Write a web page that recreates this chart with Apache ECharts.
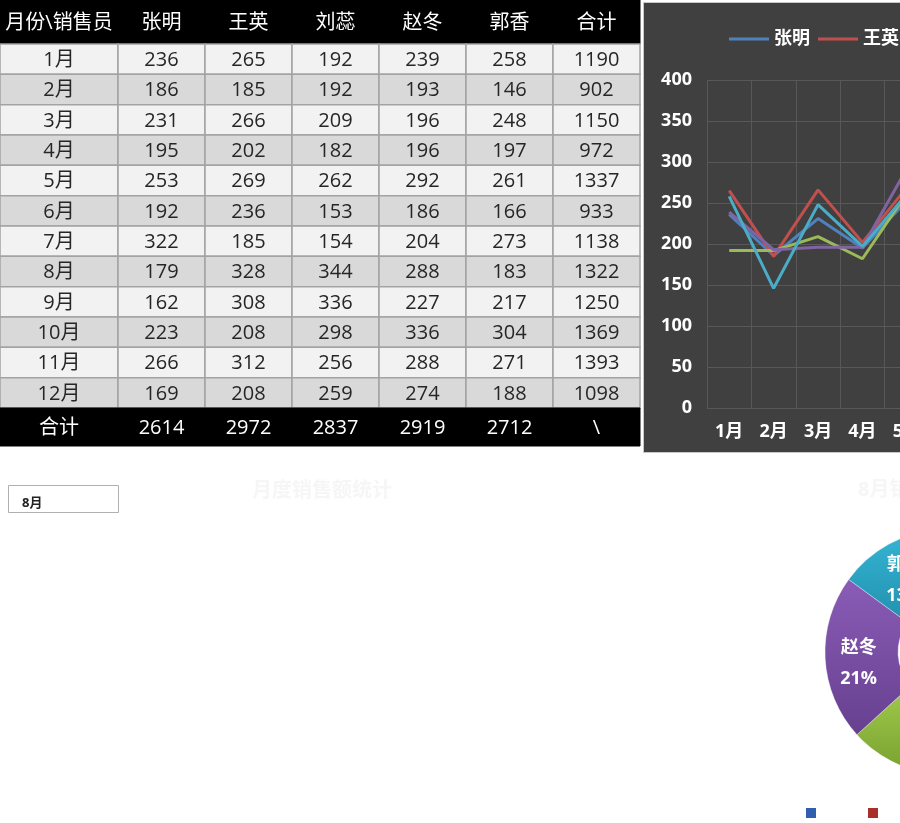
<!DOCTYPE html>
<html><head><meta charset="utf-8">
<script src="https://cdn.jsdelivr.net/npm/echarts@6/dist/echarts.min.js"></script>
<style>html,body{margin:0;padding:0;background:#fff;overflow:hidden;width:900px;height:823px}#c{width:1300px;height:823px}</style>
</head><body><div id="c"></div>
<script>
// ---- data ----
const months = ['1月','2月','3月','4月','5月','6月','7月','8月','9月','10月','11月','12月'];
const people = ['张明','王英','刘蕊','赵冬','郭香'];
const headerLabels = ['月份\\销售员','张明','王英','刘蕊','赵冬','郭香','合计'];
const zhangMing = [236,186,231,195,253,192,322,179,162,223,266,169];
const wangYing  = [265,185,266,202,269,236,185,328,308,208,312,208];
const liuRui    = [192,192,209,182,262,153,154,344,336,298,256,259];
const zhaoDong  = [239,193,196,196,292,186,204,288,227,336,288,274];
const guoXiang  = [258,146,248,197,261,166,273,183,217,304,271,188];
const monthTotals  = [1190,902,1150,972,1337,933,1138,1322,1250,1369,1393,1098];
const personTotals = [2614,2972,2837,2919,2712];
const totalLabel = '合计';
const noTotal = '\\';
const selectedMonth = '8月';
const yMin = 0, yMax = 400, yStep = 50;
const leftTitle = '月度销售额统计';
const pieTitle = '8月销售额占比';

// ---- styles ----
const lineColors = ['#4f81bd','#c0504d','#9bbb59','#8064a2','#4bacc6'];
const pieTop = ['#4a80d2','#d24c42','#a0cb4c','#8a5cb6','#36b6d6'];
const pieBot = ['#2f5fae','#a8302a','#77a02e','#66408f','#2290ad'];
const FONT = "'Open Sans','Noto Sans CJK SC',sans-serif";
const personSeries = [zhangMing, wangYing, liuRui, zhaoDong, guoXiang];

const chart = echarts.init(document.getElementById('c'));

function cellSeries(axisIdx, cells) {
  return {
    type:'custom', xAxisIndex:axisIdx, yAxisIndex:axisIdx, silent:true, clip:false, z:5,
    data: cells.map(c => [c.col, c.row]),
    renderItem(params, api) {
      const cell = cells[params.dataIndex];
      const p = api.coord([api.value(0), api.value(1)]);
      const s = api.size([1, 1]);
      return {type:'group', children:[
        {type:'rect', shape:{x:p[0]-s[0]/2, y:p[1]-s[1]/2, width:s[0], height:s[1]},
         style:{fill:cell.fill, stroke:cell.stroke, lineWidth:cell.lw}},
        {type:'text', style:{x:p[0], y:p[1]+1, text:String(cell.text), fill:cell.color,
          fontSize:20, fontFamily:FONT, align:'center', verticalAlign:'middle'}}
      ]};
    }
  };
}

const bodyCols = ['张明','王英','刘蕊','赵冬','郭香','合计'];
const bodyColData = [zhangMing, wangYing, liuRui, zhaoDong, guoXiang, monthTotals];
const rowFill = r => r % 2 === 0 ? '#f2f2f2' : '#d9d9d9';
const headStyle = {fill:'#000', stroke:'#000', lw:1, color:'#fff'};
const bodyStyle = r => ({fill:rowFill(r), stroke:'#a3a3a3', lw:1.5, color:'#262626'});

const headL = [{col:0,row:0,text:headerLabels[0],...headStyle}];
const headR = headerLabels.slice(1).map((t,i)=>({col:i,row:0,text:t,...headStyle}));
const bodyL = months.map((m,r)=>({col:0,row:r,text:m,...bodyStyle(r)}));
const bodyR = [];
months.forEach((m,r)=>bodyColData.forEach((arr,c)=>bodyR.push({col:c,row:r,text:arr[r],...bodyStyle(r)})));
const footL = [{col:0,row:0,text:totalLabel,...headStyle}];
const footR = personTotals.concat([noTotal]).map((t,i)=>({col:i,row:0,text:t,...headStyle}));

const tableGrids = [
  {left:0, top:0, width:118, height:44},
  {left:118, top:0, width:522, height:44},
  {left:0, top:44, width:118, height:364},
  {left:118, top:44, width:522, height:364},
  {left:0, top:408, width:118, height:38},
  {left:118, top:408, width:522, height:38}
];
const tableX = [[headerLabels[0]], bodyCols, ['月份'], bodyCols, [totalLabel], bodyCols];
const tableY = [['h'], ['h'], months, months, [totalLabel], [totalLabel]];

const grids = tableGrids.concat([{left:707, top:80, width:533, height:328}]);
const xAxes = tableX.map((d,i)=>({type:'category', gridIndex:i, data:d, show:false}));
const yAxes = tableY.map((d,i)=>({type:'category', gridIndex:i, data:d, show:false, inverse:true}));
const labelStyle = {color:'#fff', fontWeight:'bold', fontSize:18, fontFamily:FONT};
xAxes.push({type:'category', gridIndex:6, data:months, boundaryGap:true,
  axisLine:{show:false}, axisTick:{show:false},
  axisLabel:{...labelStyle, margin:15, interval:0},
  splitLine:{show:true, interval:0, lineStyle:{color:'#585858', width:1}}});
yAxes.push({type:'value', gridIndex:6, min:yMin, max:yMax, interval:yStep,
  axisLine:{show:false}, axisTick:{show:false},
  axisLabel:{...labelStyle, margin:15},
  splitLine:{show:true, lineStyle:{color:'#585858', width:1}}});

const series = [
  cellSeries(0, headL), cellSeries(1, headR), cellSeries(2, bodyL),
  cellSeries(3, bodyR), cellSeries(4, footL), cellSeries(5, footR)
];
people.forEach((p,i)=>series.push({
  type:'line', name:p, xAxisIndex:6, yAxisIndex:6, data:personSeries[i],
  symbol:'none', lineStyle:{width:3, color:lineColors[i]}, itemStyle:{color:lineColors[i]},
  z:3
}));
const mIdx = months.indexOf(selectedMonth);
series.push({
  type:'pie', name:pieTitle, center:[948,652], radius:[50,123], startAngle:94, clockwise:true,
  avoidLabelOverlap:false, z:3,
  data: people.map((p,i)=>({name:p, value:personSeries[i][mIdx],
    itemStyle:{color:new echarts.graphic.LinearGradient(0,0,0,1,[{offset:0,color:pieTop[i]},{offset:1,color:pieBot[i]}]),
      borderColor:'rgba(255,255,255,0.35)', borderWidth:1}})),
  label:{show:true, position:'inside', color:'#fff', fontWeight:'bold', fontSize:18, fontFamily:FONT,
    formatter:p=>'{n|'+p.name+'}\n{v|'+Math.floor(p.percent)+'%}',
    rich:{n:{lineHeight:44, color:'#fff', fontWeight:'bold', fontSize:18, fontFamily:FONT},
          v:{lineHeight:18, color:'#fff', fontWeight:'bold', fontSize:18, fontFamily:FONT}}},
  labelLine:{show:false}, emphasis:{disabled:true}
});

chart.setOption({
  animation:false,
  backgroundColor:'#fff',
  grid:grids, xAxis:xAxes, yAxis:yAxes, series,
  legend:[
    {data:people, left:724, top:25, orient:'horizontal', icon:'rect', itemWidth:40, itemHeight:3, itemGap:8,
     textStyle:{color:'#fff', fontWeight:'bold', fontSize:18, fontFamily:FONT}},
    {data:people.map((p,i)=>({name:p, icon:'rect', itemStyle:{color:pieBot[i]}})), left:801, top:801,
     itemWidth:10, itemHeight:10, itemGap:19, textStyle:{color:'#fff', fontSize:14, fontFamily:FONT}}
  ],
  graphic:[
    {type:'rect', z:-10, shape:{x:643.5, y:2.5, width:610, height:450}, style:{fill:'#404040', stroke:'#c8c8c8', lineWidth:1}},
    {type:'rect', shape:{x:8.5, y:485.5, width:110, height:27}, style:{fill:'#fff', stroke:'#b0b0b0', lineWidth:1}},
    {type:'text', style:{x:22, y:503, text:selectedMonth, fill:'#222', fontSize:13, fontWeight:'bold', fontFamily:FONT, verticalAlign:'middle'}},
    {type:'text', style:{x:252, y:491, text:leftTitle, fill:'#f6f6f6', fontSize:20, fontWeight:'bold', fontFamily:FONT, verticalAlign:'middle'}},
    {type:'text', style:{x:858, y:490, text:pieTitle, fill:'#f6f6f6', fontSize:20, fontWeight:'bold', fontFamily:FONT, verticalAlign:'middle'}}
  ]
});
</script></body></html>
